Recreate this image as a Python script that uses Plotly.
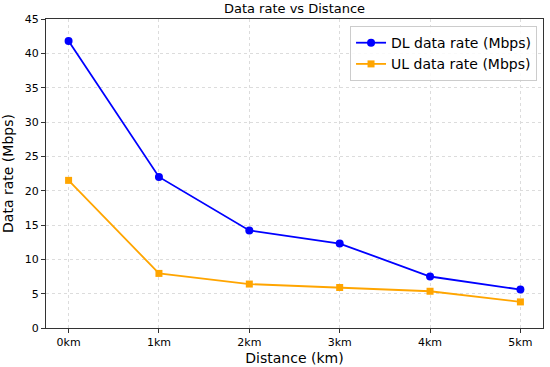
import plotly.graph_objects as go

distances = ["0km", "1km", "2km", "3km", "4km", "5km"]
dl_rate = [41.8, 22.0, 14.2, 12.3, 7.5, 5.6]
ul_rate = [21.5, 7.95, 6.4, 5.9, 5.35, 3.8]

x = list(range(len(distances)))

fig = go.Figure()
fig.add_trace(go.Scatter(x=x, y=dl_rate, mode="lines+markers", name="DL data rate (Mbps)",
                         line=dict(color="#0000ff", width=1.8),
                         marker=dict(symbol="circle", size=8, color="#0000ff")))
fig.add_trace(go.Scatter(x=x, y=ul_rate, mode="lines+markers", name="UL data rate (Mbps)",
                         line=dict(color="#ffa500", width=1.8),
                         marker=dict(symbol="square", size=7, color="#ffa500")))

axis_common = dict(showline=True, linecolor="#333333", linewidth=1, mirror=True,
                   ticks="outside", ticklen=4, tickcolor="#333333",
                   showgrid=True, gridcolor="#dcdcdc", griddash="dot", gridwidth=1,
                   zeroline=False, tickfont=dict(size=11, color="#000"), automargin=False)

fig.update_layout(
    width=550, height=367,
    margin=dict(l=46, r=7, t=19, b=39),
    paper_bgcolor="white", plot_bgcolor="white",
    font=dict(family="DejaVu Sans", color="#000"),
    title=dict(text="Data rate vs Distance", xref="paper", x=0.5, xanchor="center",
               y=0.976, yanchor="middle", font=dict(size=13)),
    xaxis=dict(title=dict(text="Distance (km)", font=dict(size=14), standoff=4),
               tickvals=x, ticktext=distances, range=[-0.25, 5.25], **axis_common),
    yaxis=dict(title=dict(text="Data rate (Mbps)", font=dict(size=14), standoff=8),
               range=[0, 45], dtick=5, **axis_common),
    legend=dict(x=0.988, y=0.977, xanchor="right", yanchor="top",
                bgcolor="rgba(255,255,255,0.85)", bordercolor="#cccccc", borderwidth=1,
                font=dict(size=14), tracegroupgap=0),
    showlegend=True,
)

fig.write_html("out.html", config={"displayModeBar": False},
               post_script="document.body.style.margin='0';")
